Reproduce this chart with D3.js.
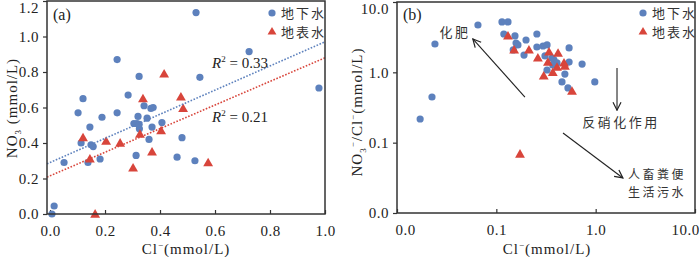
<!DOCTYPE html>
<html>
<head>
<meta charset="utf-8">
<script src="https://cdn.jsdelivr.net/npm/d3@7"></script>
<style>
  body { margin: 0; background: #fff; }
  svg { display: block; }
  .tick text { font-family: "Liberation Serif", "Times New Roman", serif; font-size: 15px; fill: #222; letter-spacing: 0.5px; }
  .domain { display: none; }
  .tick line { stroke: #333; stroke-width: 1.2; }
</style>
</head>
<body>
<script>
'use strict';

// ---- panel (a): NO3- vs Cl- (mmol/L) ----
// groundwater (circles)
let gwCl  = [0.007, 0.015, 0.051, 0.113, 0.145, 0.149, 0.157, 0.138, 0.182, 0.313, 0.325, 0.36, 0.371, 0.48, 0.462, 0.527,
             0.244, 0.324, 0.545, 0.12, 0.284, 0.102, 0.189, 0.244, 0.342, 0.367, 0.375, 0.32, 0.353, 0.305, 0.316, 0.324,
             0.407, 0.531, 0.724, 0.978];
let gwNO3 = [0.0, 0.045, 0.29, 0.40, 0.49, 0.39, 0.38, 0.29, 0.31, 0.33, 0.48, 0.42, 0.49, 0.43, 0.32, 0.30,
             0.87, 0.775, 0.77, 0.65, 0.67, 0.57, 0.545, 0.57, 0.61, 0.595, 0.60, 0.55, 0.54, 0.51, 0.51, 0.505,
             0.515, 1.135, 0.915, 0.71];
// surface water (triangles)
let swCl  = [0.12, 0.145, 0.204, 0.255, 0.327, 0.302, 0.371, 0.404, 0.164, 0.415, 0.338, 0.476, 0.484, 0.575];
let swNO3 = [0.43, 0.31, 0.41, 0.40, 0.45, 0.26, 0.35, 0.47, 0.0, 0.79, 0.65, 0.66, 0.595, 0.29];

// linear fits: [groundwater, surface water]
let fitIntercept = [0.29, 0.215];
let fitSlope = [0.68, 0.665];
let fitLabels = ["0.33", "0.21"];

// ---- panel (b): NO3-/Cl- vs Cl- (log-log) ----
let gwClB    = [0.0653, 0.0241, 0.0225, 0.0171, 0.114, 0.131, 0.119, 0.154, 0.158, 0.165, 0.148, 0.199, 0.256, 0.190, 0.256,
                0.295, 0.324, 0.309, 0.363, 0.38, 0.408, 0.37, 0.54, 0.54, 0.73, 0.324, 0.49, 0.458, 0.526, 0.98];
let gwRatio  = [4.71, 2.53, 0.446, 0.217, 5.2, 5.2, 3.51, 3.29, 2.61, 2.45, 2.08, 2.88, 3.51, 1.76, 2.29,
                2.37, 2.45, 1.71, 1.60, 1.50, 1.36, 1.27, 2.22, 1.40, 1.31, 1.08, 0.946, 0.73, 0.60, 0.73];
let swClB    = [0.131, 0.151, 0.213, 0.262, 0.339, 0.418, 0.331, 0.408, 0.48, 0.49, 0.37, 0.30, 0.578, 0.173];
let swRatio  = [3.29, 2.08, 2.08, 1.60, 1.95, 1.88, 1.40, 1.19, 1.36, 1.23, 1.0, 0.89, 0.54, 0.069];

let xTicksA = [0, 0.2, 0.4, 0.6, 0.8, 1.0];
let yTicksA = [0, 0.2, 0.4, 0.6, 0.8, 1.0, 1.2];
let ticksB = [0.01, 0.1, 1, 10];

// annotation arrows in panel (b), in data units [x1, y1, x2, y2]
let arrowsB = [
  [0.194, 0.445, 0.058, 2.98],
  [1.64, 1.15, 1.64, 0.29],
  [0.469, 0.137, 1.88, 0.0315]
];

const blue = "#5d81bd";
const red = "#d8453b";
const serif = '"Liberation Serif", "Times New Roman", serif';
const cjk = '"Noto Sans CJK SC", sans-serif';

let svg = d3.select('body').append('svg')
  .attr('width', 700)
  .attr('height', 257);

svg.append('defs').append('marker')
  .attr('id', 'arrow')
  .attr('viewBox', '0 0 10 10')
  .attr('refX', 9).attr('refY', 5)
  .attr('markerWidth', 10).attr('markerHeight', 10)
  .attr('markerUnits', 'userSpaceOnUse')
  .attr('orient', 'auto')
  .append('path')
  .attr('d', 'M1,1 L9,5 L1,9')
  .attr('fill', 'none')
  .attr('stroke', '#222')
  .attr('stroke-width', 1.2);

// draw circles and triangles
function drawPoints(g, xs, ys, xScale, yScale, shape) {
  let pts = xs.map((v, i) => ({x: v, y: ys[i]}));
  if (shape === 'circle') {
    g.selectAll('.gw').data(pts).enter()
      .append('circle')
      .attr('cx', d => xScale(d.x))
      .attr('cy', d => yScale(d.y))
      .attr('r', 3.6)
      .attr('fill', blue);
  } else {
    let tri = d3.symbol().type(d3.symbolTriangle).size(42);
    g.selectAll('.sw').data(pts).enter()
      .append('path')
      .attr('d', tri)
      .attr('transform', d => 'translate(' + xScale(d.x) + ',' + (yScale(d.y) + 0.8) + ')')
      .attr('fill', red);
  }
}

function drawFrame(x0, y0, x1, y1) {
  svg.append('rect')
    .attr('x', x0).attr('y', y0)
    .attr('width', x1 - x0).attr('height', y1 - y0)
    .attr('fill', 'none')
    .attr('stroke', '#333')
    .attr('stroke-width', 1.5);
}

function drawLegend(x, y) {
  let g = svg.append('g').attr('transform', 'translate(' + x + ',' + y + ')');
  g.append('circle').attr('cx', 0).attr('cy', 0).attr('r', 3.6).attr('fill', blue);
  g.append('path').attr('d', d3.symbol().type(d3.symbolTriangle).size(34))
    .attr('transform', 'translate(0,19)').attr('fill', red);
  ['地下水', '地表水'].forEach((t, i) => {
    g.append('text')
      .attr('x', 9).attr('y', i * 19 + 5)
      .style('font-family', cjk).style('font-size', '13px')
      .style('letter-spacing', '2px').style('fill', '#333')
      .text(t);
  });
}

// ================= panel (a) =================
let xA = d3.scaleLinear().domain([-0.011, 1.0]).range([47, 325]);
let yA = d3.scaleLinear().domain([0, 1.2]).range([214, 1]);

svg.append('g')
  .attr('transform', 'translate(0,214)')
  .call(d3.axisBottom(xA).tickValues(xTicksA).tickFormat(d3.format('.1f')).tickSize(-4).tickPadding(8))
  .selectAll('text').attr('dy', '0.95em');

let gyA = svg.append('g')
  .attr('transform', 'translate(47,0)')
  .call(d3.axisLeft(yA).tickValues(yTicksA).tickFormat(d3.format('.1f')).tickSize(4).tickPadding(4));
gyA.selectAll('.tick').filter(d => d === 1.2).select('text').attr('dy', '0.75em');

let pa = svg.append('g');
drawPoints(pa, gwCl, gwNO3, xA, yA, 'circle');
drawPoints(pa, swCl, swNO3, xA, yA, 'triangle');

// dotted fit lines
[blue, red].forEach((c, i) => {
  let xd = xA.domain();
  pa.append('line')
    .attr('x1', xA(xd[0])).attr('y1', yA(fitIntercept[i] + fitSlope[i] * xd[0]))
    .attr('x2', xA(xd[1])).attr('y2', yA(fitIntercept[i] + fitSlope[i] * xd[1]))
    .attr('stroke', c)
    .attr('stroke-width', 1.6)
    .attr('stroke-dasharray', '1.6,1.6');
});

[[212, 68], [212, 122]].forEach((p, i) => {
  let t = svg.append('text')
    .attr('x', p[0]).attr('y', p[1])
    .style('font-family', serif).style('font-size', '15px').style('fill', '#222');
  t.append('tspan').style('font-style', 'italic').text('R');
  t.append('tspan').attr('dy', -6).style('font-size', '9px').text('2');
  t.append('tspan').attr('dy', 6).text(' = ' + fitLabels[i]);
});

drawFrame(47, 1, 325, 214);
drawLegend(272, 13);

svg.append('text')
  .attr('x', 53).attr('y', 20)
  .style('font-family', serif).style('font-size', '16px').style('fill', '#222')
  .text('(a)');

// axis titles (a)
let xtA = svg.append('text')
  .attr('x', 186).attr('y', 254)
  .attr('text-anchor', 'middle')
  .style('font-family', serif).style('font-size', '15px').style('letter-spacing', '1px').style('fill', '#222');
xtA.append('tspan').text('Cl');
xtA.append('tspan').attr('dy', -6).style('font-size', '9px').text('−');
xtA.append('tspan').attr('dy', 6).text('(mmol/L)');

let ytA = svg.append('text')
  .attr('transform', 'translate(17,108)rotate(-90)')
  .attr('text-anchor', 'middle')
  .style('font-family', serif).style('font-size', '15px').style('letter-spacing', '1px').style('fill', '#222');
ytA.append('tspan').text('NO');
ytA.append('tspan').attr('dy', 4).style('font-size', '9px').text('3');
ytA.append('tspan').attr('dy', -4).text(' (mmol/L)');

// ================= panel (b) =================
let xB = d3.scaleLog().domain([0.01, 10]).range([397, 695]);
let yB = d3.scaleLog().domain([0.01, 10]).range([213, 2]);

let gxB = svg.append('g')
  .attr('transform', 'translate(0,213)')
  .call(d3.axisBottom(xB).tickValues(ticksB).tickFormat(d3.format('.1f')).tickSize(-4).tickPadding(8));
gxB.selectAll('text').attr('dy', '0.95em');
gxB.selectAll('.tick').filter(d => d === 0.01).select('text').attr('dx', 8);
gxB.selectAll('.tick').filter(d => d === 10).select('text').attr('dx', -10);

let gyB = svg.append('g')
  .attr('transform', 'translate(397,0)')
  .call(d3.axisLeft(yB).tickValues(ticksB).tickFormat(d3.format('.1f')).tickSize(4).tickPadding(4));
gyB.selectAll('.tick').filter(d => d === 10).select('text').attr('dy', '0.75em');

let pb = svg.append('g');
drawPoints(pb, gwClB, gwRatio, xB, yB, 'circle');
drawPoints(pb, swClB, swRatio, xB, yB, 'triangle');

arrowsB.forEach(a => {
  svg.append('line')
    .attr('x1', xB(a[0])).attr('y1', yB(a[1]))
    .attr('x2', xB(a[2])).attr('y2', yB(a[3]))
    .attr('stroke', '#222')
    .attr('stroke-width', 1.1)
    .attr('marker-end', 'url(#arrow)');
});

function note(txt, x, y, anchor, size) {
  svg.append('text')
    .attr('x', xB(x)).attr('y', yB(y))
    .attr('dy', '0.35em')
    .attr('text-anchor', anchor)
    .style('font-family', cjk).style('font-size', size + 'px')
    .style('letter-spacing', '2.5px').style('fill', '#333')
    .text(txt);
}
note('化肥', 0.0384, 3.75, 'middle', 13);
note('反硝化作用', 1.80, 0.197, 'middle', 13);
note('人畜粪便', 2.12, 0.0350, 'start', 12);
note('生活污水', 2.12, 0.0196, 'start', 12);

drawFrame(397, 2, 695, 213);
drawLegend(643, 13);

svg.append('text')
  .attr('x', 403).attr('y', 20)
  .style('font-family', serif).style('font-size', '16px').style('fill', '#222')
  .text('(b)');

let xtB = svg.append('text')
  .attr('x', 547).attr('y', 254)
  .attr('text-anchor', 'middle')
  .style('font-family', serif).style('font-size', '15px').style('letter-spacing', '1px').style('fill', '#222');
xtB.append('tspan').text('Cl');
xtB.append('tspan').attr('dy', -6).style('font-size', '9px').text('−');
xtB.append('tspan').attr('dy', 6).text('(mmol/L)');

let ytB = svg.append('text')
  .attr('transform', 'translate(362,112)rotate(-90)')
  .attr('text-anchor', 'middle')
  .style('font-family', serif).style('font-size', '15px').style('letter-spacing', '1px').style('fill', '#222');
ytB.append('tspan').text('NO');
ytB.append('tspan').attr('dy', 4).style('font-size', '9px').text('3');
ytB.append('tspan').attr('dy', -10).style('font-size', '9px').text('−');
ytB.append('tspan').attr('dy', 6).text('/Cl');
ytB.append('tspan').attr('dy', -6).style('font-size', '9px').text('−');
ytB.append('tspan').attr('dy', 6).text('(mmol/L)');
</script>
</body>
</html>
